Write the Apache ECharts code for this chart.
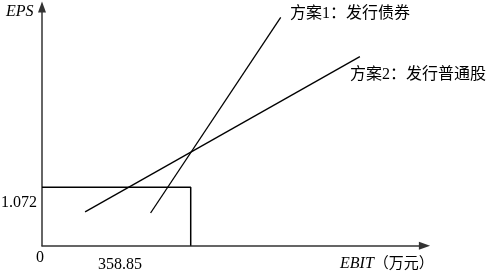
<!DOCTYPE html>
<html><head><meta charset="utf-8">
<script src="https://cdn.jsdelivr.net/npm/echarts@6/dist/echarts.min.js"></script>
<style>html,body{margin:0;padding:0;background:#fff}#c{width:489px;height:273px}</style>
</head><body><div id="c"></div>
<script>
// Schematic EBIT-EPS break-even chart
const breakEvenEBIT = 358.85;
const breakEvenEPS = 1.072;
const bondEBIT = [262, 576];      // 方案1：发行债券
const bondEPS = [0.60, 4.19];
const stockEBIT = [104, 767];     // 方案2：发行普通股
const stockEPS = [0.62, 3.47];
const xMax = 923, yMax = 4.38;

const serif = '"Liberation Serif", "DejaVu Serif", "Noto Sans CJK SC", serif';
const zip = (a, b) => a.map((v, i) => [v, b[i]]);

const axisLine = { show: true, lineStyle: { color: '#333', width: 1.5 },
  symbol: ['none', 'path://M5,0L10,14L0,14Z'], symbolSize: [8, 12], symbolOffset: [0, 0] };

const chart = echarts.init(document.getElementById('c'));
chart.setOption({
  animation: false,
  grid: { left: 42, right: 64.5, top: 7, bottom: 27.3 },
  xAxis: {
    type: 'value', min: 0, max: xMax, axisLine,
    axisTick: { show: false }, axisLabel: { show: false }, splitLine: { show: false }
  },
  yAxis: {
    type: 'value', min: 0, max: yMax, axisLine,
    axisTick: { show: false }, axisLabel: { show: false }, splitLine: { show: false }
  },
  series: [
    { type: 'line', data: [[0, breakEvenEPS], [breakEvenEBIT, breakEvenEPS], [breakEvenEBIT, 0]],
      symbol: 'none', lineStyle: { color: '#000', width: 1.5 }, z: 3 },
    { type: 'line', data: zip(bondEBIT, bondEPS), symbol: 'none', lineStyle: { color: '#000', width: 1.3 } },
    { type: 'line', data: zip(stockEBIT, stockEPS), symbol: 'none', lineStyle: { color: '#000', width: 1.3 } }
  ],
  graphic: [
    { type: 'text', left: 6, top: 4, style: { text: 'EPS', font: 'italic 16px ' + serif, fill: '#000' } },
    { type: 'text', left: 1, top: 195, style: { text: '1.072', font: '16px ' + serif, fill: '#000' } },
    { type: 'text', left: 36, top: 250, style: { text: '0', font: '16px ' + serif, fill: '#000' } },
    { type: 'text', left: 98, top: 257, style: { text: '358.85', font: '16px ' + serif, fill: '#000' } },
    { type: 'text', left: 340, top: 256, style: { text: '{i|EBIT}（万元）', font: '15px ' + serif, fill: '#000', rich: { i: { font: 'italic 16px ' + serif, fill: '#000' } } } },
    { type: 'text', left: 290, top: 6, style: { text: '方案1：发行债券', font: '16px ' + serif, fill: '#000' } },
    { type: 'text', left: 350, top: 67, style: { text: '方案2：发行普通股', font: '16px ' + serif, fill: '#000' } }
  ]
});
</script></body></html>
